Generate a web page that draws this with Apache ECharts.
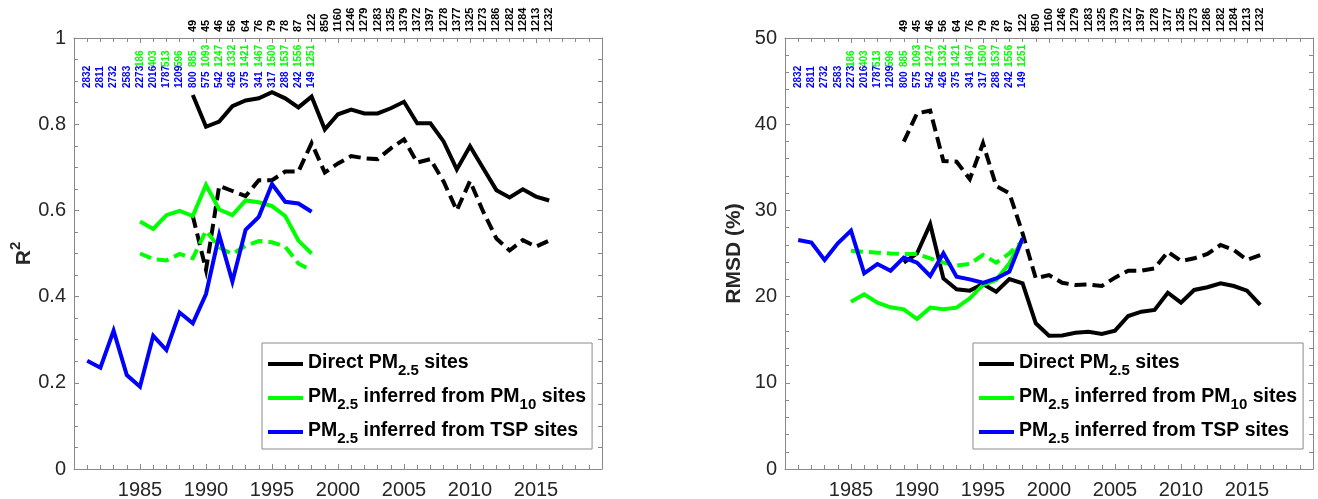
<!DOCTYPE html>
<html>
<head>
<meta charset="utf-8">
<script src="https://cdn.jsdelivr.net/npm/echarts@6/dist/echarts.min.js"></script>
<style>
  html, body { margin: 0; padding: 0; background: #fff; }
  #chart { width: 1318px; height: 499px; }
</style>
</head>
<body>
<div id="chart"></div>
<script>
// ---- Years covered by each site network ----
const directYears = [1989, 1990, 1991, 1992, 1993, 1994, 1995, 1996, 1997, 1998, 1999, 2000, 2001, 2002,
  2003, 2004, 2005, 2006, 2007, 2008, 2009, 2010, 2011, 2012, 2013, 2014, 2015, 2016];
const pm10Years = [1985, 1986, 1987, 1988, 1989, 1990, 1991, 1992, 1993, 1994, 1995, 1996, 1997, 1998];
const tspYears = [1981, 1982, 1983, 1984, 1985, 1986, 1987, 1988, 1989, 1990, 1991, 1992, 1993, 1994,
  1995, 1996, 1997, 1998];

// ---- Number of sites per year ----
const directCounts = [49, 45, 46, 56, 64, 76, 79, 78, 87, 122, 850, 1160, 1246, 1279, 1283, 1325, 1379,
  1372, 1397, 1278, 1377, 1325, 1273, 1286, 1282, 1284, 1213, 1232];
const pm10Counts = [186, 403, 513, 596, 885, 1093, 1247, 1332, 1421, 1467, 1500, 1537, 1556, 1251];
const tspCounts = [2832, 2811, 2732, 2583, 2273, 2016, 1787, 1209, 800, 575, 542, 426, 375, 341, 317,
  288, 242, 149];

// ---- R² ----
const r2Direct = [0.868, 0.794, 0.806, 0.842, 0.855, 0.86, 0.874, 0.86, 0.839, 0.864, 0.788, 0.823, 0.834,
  0.825, 0.825, 0.837, 0.852, 0.802, 0.802, 0.76, 0.695, 0.749, 0.698, 0.647, 0.63, 0.649, 0.632, 0.623];
const r2DirectDashed = [0.587, 0.462, 0.657, 0.645, 0.633, 0.67, 0.67, 0.69, 0.69, 0.756, 0.688, 0.709,
  0.726, 0.721, 0.719, 0.744, 0.765, 0.711, 0.719, 0.667, 0.6, 0.668, 0.597, 0.535, 0.507, 0.531, 0.516, 0.53];
const r2Pm10 = [0.574, 0.557, 0.589, 0.599, 0.587, 0.659, 0.602, 0.589, 0.623, 0.619, 0.61, 0.587, 0.53, 0.5];
const r2Pm10Dashed = [0.5, 0.487, 0.484, 0.499, 0.489, 0.553, 0.514, 0.499, 0.518, 0.529, 0.526, 0.516,
  0.477, 0.46];
const r2Tsp = [0.251, 0.235, 0.321, 0.218, 0.191, 0.309, 0.276, 0.363, 0.338, 0.406, 0.543, 0.435, 0.555,
  0.585, 0.661, 0.62, 0.616, 0.597];

// ---- RMSD (%) ----
const rmsdDirect = [23.94, 25.0, 28.4, 22.1, 20.85, 20.69, 21.46, 20.57, 22.04, 21.54, 16.9, 15.47, 15.5,
  15.8, 15.93, 15.66, 16.05, 17.75, 18.25, 18.45, 20.45, 19.3, 20.77, 21.08, 21.54, 21.23, 20.69, 19.03];
const rmsdDirectDashed = [37.97, 41.26, 41.57, 35.73, 35.65, 33.64, 37.78, 32.83, 31.98, 27.34, 22.12, 22.5,
  21.6, 21.35, 21.4, 21.23, 22.2, 23.0, 23.0, 23.28, 25.2, 24.13, 24.44, 24.94, 25.99, 25.4, 24.25, 24.8];
const rmsdPm10 = [19.41, 20.26, 19.3, 18.76, 18.52, 17.4, 18.72, 18.52, 18.72, 19.8, 21.35, 21.93, 23.86, 26.65];
const rmsdPm10Dashed = [25.33, 25.2, 25.1, 25.0, 24.94, 24.94, 24.44, 23.94, 23.6, 23.78, 24.83, 23.94,
  25.02, 26.45];
const rmsdTsp = [26.57, 26.26, 24.25, 26.18, 27.65, 22.7, 23.78, 23.0, 24.52, 23.94, 22.39, 25.02, 22.3,
  22.0, 21.6, 22.1, 22.9, 26.76];

// ---- Legend names ----
const NAME_DIRECT = 'Direct PM2.5 sites';
const NAME_PM10 = 'PM2.5 inferred from PM10 sites';
const NAME_TSP = 'PM2.5 inferred from TSP sites';

const FONT = '"Liberation Sans", Arial, Helvetica, sans-serif';
const AXIS_COLOR = '#8a8a8a';
const LABEL_COLOR = '#262626';
const BLACK = '#000000', GREEN = '#00ff00', BLUE = '#0000ff';

const GRID_TOP = 38, GRID_H = 431, GRID_W = 528;
const grids = [
  { left: 74, top: GRID_TOP, width: GRID_W, height: GRID_H, outerBoundsMode: 'none', containLabel: false },
  { left: 785, top: GRID_TOP, width: GRID_W, height: GRID_H, outerBoundsMode: 'none', containLabel: false }
];

function zip(xs, ys) { return xs.map((x, i) => [x, ys[i]]); }

function xAxisPair(gridIndex) {
  const base = {
    type: 'value', gridIndex, min: 1980, max: 2020, interval: 5,
    axisLine: { show: true, onZero: false, lineStyle: { color: AXIS_COLOR, width: 1 } },
    axisTick: { show: true, inside: true, length: 5, lineStyle: { color: AXIS_COLOR } },
    minorTick: { show: true, splitNumber: 5, length: 4, lineStyle: { color: AXIS_COLOR } },
    splitLine: { show: false }
  };
  return [
    Object.assign({}, base, {
      position: 'bottom',
      axisLabel: {
        show: true, margin: 11, color: LABEL_COLOR, fontSize: 20, fontFamily: FONT,
        formatter: v => (v === 1980 || v === 2020) ? '' : String(v)
      }
    }),
    Object.assign({}, base, { position: 'top', axisLabel: { show: false } })
  ];
}

// Axis title styles, with a raised superscript for R²
const nameRich = {
  r: { fontSize: 21, fontWeight: 'bold', fontFamily: FONT, color: LABEL_COLOR, lineHeight: 22, padding: [5, 0, 0, 0], verticalAlign: 'top' },
  sup: { fontSize: 15, fontWeight: 'bold', fontFamily: FONT, color: LABEL_COLOR, lineHeight: 16, verticalAlign: 'top' }
};

function yAxisPair(gridIndex, max, interval, minorSplit, name, nameGap) {
  const base = {
    type: 'value', gridIndex, min: 0, max, interval,
    axisLine: { show: true, onZero: false, lineStyle: { color: AXIS_COLOR, width: 1 } },
    axisTick: { show: true, inside: true, length: 5, lineStyle: { color: AXIS_COLOR } },
    minorTick: { show: true, splitNumber: minorSplit, length: 4, lineStyle: { color: AXIS_COLOR } },
    splitLine: { show: false }
  };
  return [
    Object.assign({}, base, {
      position: 'left',
      name, nameLocation: 'middle', nameGap, nameRotate: 90,
      nameTextStyle: { color: LABEL_COLOR, fontSize: 21, fontWeight: 'bold', fontFamily: FONT, rich: nameRich },
      axisLabel: { show: true, margin: 8, color: LABEL_COLOR, fontSize: 20, fontFamily: FONT }
    }),
    Object.assign({}, base, { position: 'right', axisLabel: { show: false } })
  ];
}

function lineSeries(name, xAxisIndex, yAxisIndex, data, color, dashed, z) {
  return {
    type: 'line', name, xAxisIndex, yAxisIndex, data,
    symbol: 'none', smooth: false, z,
    lineStyle: { color, width: 4, type: dashed ? [12, 6] : 'solid', cap: 'butt', join: 'miter' },
    itemStyle: { color },
    emphasis: { disabled: true },
    animation: false
  };
}

// Rotated site-count labels above each plot, one per year
function countSeries(xAxisIndex, yAxisIndex, years, counts, color, baseY, size) {
  return {
    type: 'custom', xAxisIndex, yAxisIndex, silent: true, clip: false, z: 10,
    data: years.map((y, i) => [y, 0, counts[i]]),
    encode: { x: 0, y: 1 },
    renderItem: (params, api) => {
      const x = api.coord([api.value(0), 0])[0];
      return {
        type: 'text', x, y: baseY, rotation: Math.PI / 2,
        style: {
          text: String(api.value(2)), fill: color,
          font: 'bold ' + size + 'px ' + FONT,
          align: 'left', verticalAlign: 'middle'
        }
      };
    },
    animation: false
  };
}

const legendRich = {
  b: { fontSize: 19.5, fontWeight: 'bold', fontFamily: FONT, color: '#000', lineHeight: 22, verticalAlign: 'top' },
  s: { fontSize: 15, fontWeight: 'bold', fontFamily: FONT, color: '#000', lineHeight: 16, padding: [10, 0, 0, 0], verticalAlign: 'top' }
};
const legendText = {};
legendText[NAME_DIRECT] = '{b|Direct PM}{s|2.5}{b| sites}';
legendText[NAME_PM10] = '{b|PM}{s|2.5}{b| inferred from PM}{s|10}{b| sites}';
legendText[NAME_TSP] = '{b|PM}{s|2.5}{b| inferred from TSP sites}';

function legendAt(left) {
  return {
    left, top: 343, orient: 'vertical', selectedMode: false,
    data: [NAME_DIRECT, NAME_PM10, NAME_TSP],
    icon: 'rect', itemWidth: 35, itemHeight: 4, itemGap: 9,
    padding: [10, 6, 3, 6],
    borderColor: AXIS_COLOR, borderWidth: 1, backgroundColor: '#ffffff',
    formatter: n => legendText[n],
    textStyle: { rich: legendRich, padding: [0, 0, 0, 0] }
  };
}

const option = {
  animation: false,
  backgroundColor: '#ffffff',
  grid: grids,
  xAxis: [...xAxisPair(0), ...xAxisPair(1)],
  yAxis: [...yAxisPair(0, 1, 0.2, 4, '{r|R}{sup|2}', 38), ...yAxisPair(1, 50, 10, 5, 'RMSD (%)', 40)],
  legend: [legendAt(262), legendAt(973)],
  series: [
    // R² panel
    lineSeries(NAME_DIRECT, 0, 0, zip(directYears, r2Direct), BLACK, false, 2),
    lineSeries(NAME_DIRECT + ' (dashed)', 0, 0, zip(directYears, r2DirectDashed), BLACK, true, 2),
    lineSeries(NAME_PM10, 0, 0, zip(pm10Years, r2Pm10), GREEN, false, 3),
    lineSeries(NAME_PM10 + ' (dashed)', 0, 0, zip(pm10Years, r2Pm10Dashed), GREEN, true, 3),
    lineSeries(NAME_TSP, 0, 0, zip(tspYears, r2Tsp), BLUE, false, 4),
    // RMSD panel
    lineSeries(NAME_DIRECT, 2, 2, zip(directYears, rmsdDirect), BLACK, false, 2),
    lineSeries(NAME_DIRECT + ' (dashed)', 2, 2, zip(directYears, rmsdDirectDashed), BLACK, true, 2),
    lineSeries(NAME_PM10, 2, 2, zip(pm10Years, rmsdPm10), GREEN, false, 3),
    lineSeries(NAME_PM10 + ' (dashed)', 2, 2, zip(pm10Years, rmsdPm10Dashed), GREEN, true, 3),
    lineSeries(NAME_TSP, 2, 2, zip(tspYears, rmsdTsp), BLUE, false, 4),
    // site counts
    countSeries(0, 0, directYears, directCounts, BLACK, 32, 11),
    countSeries(0, 0, pm10Years, pm10Counts, GREEN, 67, 10),
    countSeries(0, 0, tspYears, tspCounts, BLUE, 88, 10),
    countSeries(2, 2, directYears, directCounts, BLACK, 32, 11),
    countSeries(2, 2, pm10Years, pm10Counts, GREEN, 67, 10),
    countSeries(2, 2, tspYears, tspCounts, BLUE, 88, 10)
  ]
};

const chart = echarts.init(document.getElementById('chart'), null, { renderer: 'canvas' });
chart.setOption(option);
</script>
</body>
</html>
